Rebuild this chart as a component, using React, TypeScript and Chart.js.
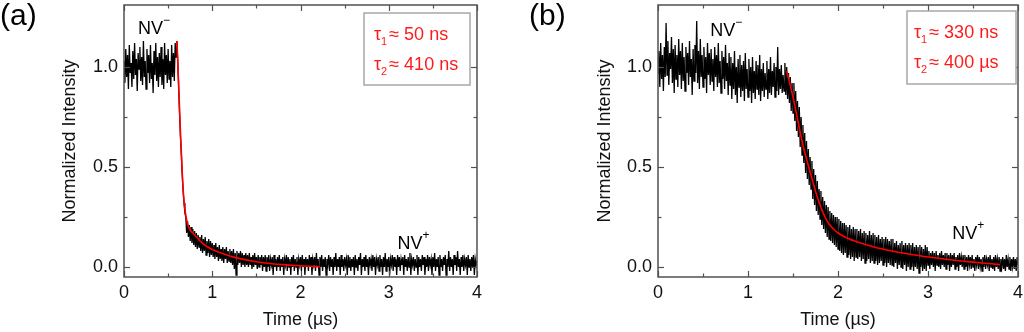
import React, { useEffect, useRef } from 'react';
import { Chart, registerables } from 'chart.js';

Chart.register(...registerables);

const FONT = "'Liberation Sans', Arial, sans-serif";

// sampling interval of the recorded traces (µs)
const SAMPLE_STEP_US = 0.01;

const X_TICKS = [0, 1, 2, 3, 4];
const X_MINOR = [0.5, 1.5, 2.5, 3.5];
const Y_TICKS = [0, 0.5, 1.0];
const Y_MINOR = [0.25, 0.75];

const X_TITLE = 'Time (µs)';
const Y_TITLE = 'Normalized Intensity';

// Panel (a): measured trace, one value per sample from t = 0 to 4 µs (20 samples per row)
const noiseA = [
  1.03, 0.92, 1.09, 0.95, 1.06, 0.89, 1.11, 0.97, 1.02, 0.90, 1.08, 0.94, 1.12, 0.96, 1.04, 0.88, 1.07, 0.99, 1.10, 0.93,
  1.05, 0.91, 1.13, 0.95, 1.03, 0.89, 1.09, 0.97, 1.06, 0.92, 1.11, 0.94, 1.02, 0.87, 1.08, 0.96, 1.12, 0.93, 1.05, 0.90,
  1.07, 0.95, 1.10, 0.91, 1.04, 0.89, 1.12, 0.96, 1.06, 0.92, 1.09, 0.94, 1.03, 0.90, 1.11, 0.95, 1.07, 0.93, 1.12, 1.05,
  1.13, 1.02, 0.89, 0.76, 0.65, 0.56, 0.46, 0.38, 0.32, 0.27, 0.25, 0.17, 0.23, 0.15, 0.21, 0.13, 0.20, 0.12, 0.19, 0.11,
  0.18, 0.10, 0.17, 0.09, 0.16, 0.10, 0.15, 0.08, 0.16, 0.07, 0.14, 0.08, 0.15, 0.06, 0.13, 0.07, 0.14, 0.05, 0.13, 0.06,
  0.12, 0.05, 0.11, 0.04, 0.12, 0.05, 0.10, 0.03, 0.11, 0.04, 0.09, 0.03, 0.10, 0.02, 0.09, 0.04, 0.10, 0.02, 0.08, 0.03,
  0.09, 0.02, 0.08, 0.01, 0.09, -0.01, 0.07, -0.04, 0.08, 0.01, 0.07, 0.02, 0.08, 0.00, 0.07, 0.01, 0.06, 0.00, 0.07, 0.01,
  0.06, 0.00, 0.07, 0.01, 0.05, -0.01, 0.06, 0.00, 0.07, 0.01, 0.05, -0.01, 0.06, 0.00, 0.05, 0.01, 0.06, -0.02, 0.05, 0.00,
  0.06, -0.02, 0.05, 0.00, 0.06, -0.02, 0.04, 0.01, 0.05, -0.04, 0.06, 0.00, 0.04, -0.02, 0.05, 0.00, 0.06, -0.02, 0.04, 0.00,
  0.05, -0.04, 0.04, 0.01, 0.06, -0.02, 0.05, 0.00, 0.04, -0.04, 0.05, 0.00, 0.06, -0.02, 0.04, 0.00, 0.05, -0.04, 0.04, 0.01,
  0.05, -0.02, 0.06, 0.00, 0.04, -0.04, 0.05, 0.00, 0.04, -0.02, 0.06, 0.00, 0.05, -0.04, 0.04, 0.01, 0.05, -0.02, 0.07, 0.00,
  0.04, -0.04, 0.05, 0.00, 0.06, -0.02, 0.04, 0.00, 0.05, -0.04, 0.04, 0.01, 0.06, -0.02, 0.05, 0.00, 0.04, -0.04, 0.05, 0.00,
  0.07, -0.02, 0.04, 0.00, 0.05, -0.04, 0.06, 0.00, 0.04, -0.02, 0.05, 0.01, 0.04, -0.04, 0.06, 0.00, 0.05, -0.02, 0.04, 0.00,
  0.05, -0.04, 0.06, 0.00, 0.04, -0.02, 0.05, 0.01, 0.07, -0.04, 0.04, 0.00, 0.05, -0.02, 0.06, 0.00, 0.04, -0.04, 0.05, 0.01,
  0.04, -0.02, 0.06, 0.00, 0.05, -0.04, 0.04, 0.01, 0.05, -0.02, 0.06, 0.00, 0.04, -0.04, 0.05, 0.00, 0.07, -0.02, 0.04, 0.00,
  0.05, -0.04, 0.04, 0.01, 0.06, -0.02, 0.05, 0.00, 0.04, -0.04, 0.06, 0.00, 0.05, -0.02, 0.04, 0.01, 0.05, -0.04, 0.06, 0.00,
  0.04, -0.02, 0.05, 0.00, 0.07, -0.04, 0.04, 0.01, 0.05, -0.02, 0.04, 0.00, 0.06, -0.04, 0.05, 0.00, 0.04, -0.02, 0.06, 0.01,
  0.05, -0.04, 0.04, 0.00, 0.06, -0.02, 0.05, 0.01, 0.04, -0.04, 0.05, 0.00, 0.07, -0.02, 0.04, 0.00, 0.05, -0.04, 0.06, 0.00,
  0.04, -0.02, 0.05, 0.01, 0.06, -0.04, 0.04, 0.00, 0.08, -0.02, 0.05, 0.00, 0.04, -0.04, 0.06, 0.01, 0.05, -0.02, 0.08, 0.00,
  0.04, -0.04, 0.05, 0.00, 0.06, -0.02, 0.04, 0.01, 0.05, -0.04, 0.06, 0.00, 0.04, -0.02, 0.05, 0.00, 0.06, -0.04, 0.04, 0.01,
  0.03,
];

// Panel (a): bi-exponential fit curve
const fitATimes = [0.60, 0.62, 0.64, 0.65, 0.66, 0.67, 0.68, 0.69, 0.70, 0.72, 0.75, 0.80, 0.85, 0.90, 0.95, 1.00, 1.10, 1.20, 1.30, 1.45, 1.60, 1.80, 2.00, 2.22];
const fitAValues = [1.13, 0.90, 0.67, 0.57, 0.47, 0.39, 0.33, 0.29, 0.26, 0.215, 0.185, 0.16, 0.135, 0.115, 0.10, 0.088, 0.07, 0.055, 0.043, 0.03, 0.02, 0.012, 0.006, 0.002];

// Panel (b): measured trace (20 samples per row)
const noiseB = [
  0.97, 1.08, 0.90, 1.12, 0.94, 1.06, 0.88, 1.10, 0.95, 1.22, 0.96, 1.13, 0.91, 1.07, 0.99, 1.15, 0.92, 1.09, 0.87, 1.11,
  0.94, 1.06, 0.90, 1.14, 0.96, 1.08, 0.89, 1.12, 0.93, 1.05, 0.88, 1.10, 0.97, 1.07, 0.91, 1.13, 0.95, 1.04, 0.86, 1.09,
  0.93, 1.11, 0.97, 1.23, 0.92, 1.08, 0.89, 1.14, 0.95, 1.06, 0.90, 1.10, 0.94, 1.05, 0.87, 1.12, 0.96, 1.07, 0.91, 1.09,
  0.93, 1.04, 0.88, 1.10, 0.95, 1.06, 0.90, 1.12, 0.92, 1.03, 0.87, 1.08, 0.94, 1.05, 0.89, 1.11, 0.93, 1.02, 0.86, 1.07,
  0.91, 1.05, 0.84, 1.02, 0.89, 1.08, 0.86, 1.00, 0.82, 1.04, 0.90, 1.06, 0.85, 1.01, 0.88, 1.03, 0.83, 1.07, 0.89, 0.99,
  0.85, 1.04, 0.88, 1.00, 0.82, 1.05, 0.87, 0.98, 0.84, 1.03, 0.89, 1.01, 0.86, 1.06, 0.83, 0.99, 0.88, 1.02, 0.85, 0.97,
  0.89, 1.03, 0.84, 0.99, 0.87, 1.05, 0.86, 0.98, 0.90, 1.02, 0.85, 1.00, 0.88, 1.10, 0.86, 0.99, 0.89, 1.01, 0.87, 0.96,
  0.88, 1.02, 0.86, 1.00, 0.84, 0.97, 0.82, 0.95, 0.78, 0.92, 0.77, 0.92, 0.73, 0.88, 0.68, 0.83, 0.65, 0.80, 0.60, 0.75,
  0.56, 0.71, 0.52, 0.67, 0.47, 0.63, 0.44, 0.59, 0.41, 0.55, 0.39, 0.53, 0.34, 0.49, 0.31, 0.46, 0.28, 0.43, 0.26, 0.39,
  0.24, 0.38, 0.21, 0.35, 0.19, 0.33, 0.17, 0.31, 0.15, 0.30, 0.14, 0.28, 0.13, 0.27, 0.12, 0.26, 0.11, 0.25, 0.10, 0.25,
  0.09, 0.24, 0.08, 0.23, 0.07, 0.22, 0.06, 0.22, 0.07, 0.21, 0.05, 0.20, 0.06, 0.21, 0.04, 0.19, 0.05, 0.20, 0.03, 0.19,
  0.05, 0.19, 0.04, 0.18, 0.05, 0.19, 0.03, 0.17, 0.04, 0.18, 0.02, 0.17, 0.03, 0.16, 0.04, 0.18, 0.02, 0.16, 0.03, 0.17,
  0.02, 0.16, 0.03, 0.15, 0.01, 0.16, 0.02, 0.14, 0.03, 0.15, 0.01, 0.14, 0.02, 0.15, 0.00, 0.14, 0.02, 0.13, 0.01, 0.14,
  0.01, 0.14, 0.00, 0.12, 0.02, 0.13, -0.01, 0.11, 0.01, 0.12, 0.00, 0.13, -0.01, 0.11, 0.01, 0.12, -0.02, 0.11, 0.00, 0.12,
  -0.01, 0.11, 0.00, 0.12, -0.02, 0.10, 0.00, 0.11, -0.01, 0.10, -0.03, 0.11, 0.00, 0.10, -0.02, 0.09, -0.01, 0.11, -0.02, 0.10,
  0.01, 0.08, -0.01, 0.07, 0.01, 0.08, 0.00, 0.07, -0.02, 0.08, 0.01, 0.06, 0.00, 0.07, -0.01, 0.08, 0.01, 0.06, 0.00, 0.07,
  -0.01, 0.07, 0.01, 0.06, -0.02, 0.07, 0.00, 0.06, 0.01, 0.07, -0.01, 0.05, 0.00, 0.06, -0.02, 0.07, 0.01, 0.05, 0.00, 0.06,
  -0.01, 0.06, 0.00, 0.05, -0.02, 0.06, 0.01, 0.05, -0.01, 0.06, 0.00, 0.04, -0.02, 0.05, 0.01, 0.06, -0.01, 0.05, 0.00, 0.04,
  -0.02, 0.05, 0.00, 0.06, -0.01, 0.04, 0.01, 0.05, -0.02, 0.06, 0.00, 0.04, -0.01, 0.05, -0.02, 0.06, 0.00, 0.04, -0.01, 0.05,
  -0.02, 0.04, 0.00, 0.05, -0.01, 0.04, -0.02, 0.06, 0.00, 0.04, -0.01, 0.05, -0.02, 0.04, 0.00, 0.05, -0.01, 0.04, -0.02, 0.05,
  0.01,
];

const fitBTimes = [1.43, 1.50, 1.55, 1.60, 1.65, 1.70, 1.75, 1.80, 1.85, 1.90, 1.95, 2.00, 2.10, 2.20, 2.40, 2.60, 2.80, 3.00, 3.20, 3.40, 3.60, 3.80];
const fitBValues = [0.98, 0.85, 0.74, 0.63, 0.54, 0.46, 0.38, 0.31, 0.255, 0.215, 0.19, 0.17, 0.145, 0.127, 0.10, 0.08, 0.064, 0.05, 0.039, 0.029, 0.02, 0.012];

type PanelCfg = {
  letter: string;
  letterX: number;
  noise: number[];
  fitT: number[];
  fitV: number[];
  tau1: string;
  tau2: string;
  box: [number, number, number, number];
  textX: number;
  nvMinus: [number, number];
  nvPlus: [number, number];
  yAxisWidth: number;
  yTitleOffset: number;
  padRight: number;
};

const panels: PanelCfg[] = [
  {
    letter: '(a)', letterX: 0,
    noise: noiseA, fitT: fitATimes, fitV: fitAValues,
    tau1: '≈ 50 ns', tau2: '≈ 410 ns',
    box: [364, 13, 106, 72], textX: 374,
    nvMinus: [0.16, 1.19], nvPlus: [3.1, 0.115],
    yAxisWidth: 124, yTitleOffset: 59, padRight: 35,
  },
  {
    letter: '(b)', letterX: 17,
    noise: noiseB, fitT: fitBTimes, fitV: fitBValues,
    tau1: '≈ 330 ns', tau2: '≈ 400 µs',
    box: [395, 11, 109, 73], textX: 402,
    nvMinus: [0.58, 1.18], nvPlus: [3.27, 0.165],
    yAxisWidth: 146, yTitleOffset: 82, padRight: 6,
  },
];

const decorPlugin = {
  id: 'decor',
  afterDatasetsDraw(chart: any, _args: any, opts: any) {
    const { ctx, chartArea, scales } = chart;
    const { left, right, top, bottom } = chartArea;
    const x = scales.x, y = scales.y;
    const cfg: PanelCfg = opts.cfg;
    ctx.save();
    // frame
    ctx.strokeStyle = '#505050';
    ctx.lineWidth = 1.5;
    ctx.strokeRect(left, top, right - left, bottom - top);
    // inward ticks
    ctx.lineWidth = 1.2;
    const seg = (x1: number, y1: number, x2: number, y2: number) => {
      ctx.beginPath(); ctx.moveTo(x1, y1); ctx.lineTo(x2, y2); ctx.stroke();
    };
    const xt = (vals: number[], len: number) => vals.forEach(v => {
      const px = Math.round(x.getPixelForValue(v)) + 0.5;
      seg(px, bottom, px, bottom - len); seg(px, top, px, top + len);
    });
    const yt = (vals: number[], len: number) => vals.forEach(v => {
      const py = Math.round(y.getPixelForValue(v)) + 0.5;
      seg(left, py, left + len, py); seg(right, py, right - len, py);
    });
    xt(X_TICKS, 6); xt(X_MINOR, 3.5);
    yt(Y_TICKS, 6); yt(Y_MINOR, 3.5);

    // NV labels
    ctx.fillStyle = '#000';
    ctx.textBaseline = 'middle';
    ctx.textAlign = 'left';
    const nv = (pos: [number, number], sign: string) => {
      const px = x.getPixelForValue(pos[0]);
      const py = y.getPixelForValue(pos[1]);
      ctx.font = `18px ${FONT}`;
      ctx.fillText('NV', px, py);
      const w = ctx.measureText('NV').width;
      ctx.font = `12px ${FONT}`;
      ctx.fillText(sign, px + w, py - 8);
    };
    nv(cfg.nvMinus, '−');
    nv(cfg.nvPlus, '+');

    // fit-parameter box
    const [bx, by, bw, bh] = cfg.box;
    ctx.fillStyle = '#fff';
    ctx.fillRect(bx, by, bw, bh);
    ctx.strokeStyle = '#a8a8a8';
    ctx.lineWidth = 1.5;
    ctx.strokeRect(bx, by, bw, bh);
    ctx.fillStyle = '#ff1a1a';
    ctx.textBaseline = 'alphabetic';
    const tau = (ty: number, sub: string, rest: string) => {
      ctx.font = `18px ${FONT}`;
      ctx.fillText('τ', cfg.textX, ty);
      const w = ctx.measureText('τ').width;
      ctx.font = `11px ${FONT}`;
      ctx.fillText(sub, cfg.textX + w, ty + 5);
      const w2 = ctx.measureText(sub).width;
      ctx.font = `18px ${FONT}`;
      ctx.fillText(rest, cfg.textX + w + w2 + 2, ty);
    };
    tau(by + 27, '1', cfg.tau1);
    tau(by + 57, '2', cfg.tau2);

    // panel letter
    ctx.fillStyle = '#000';
    ctx.font = `30px ${FONT}`;
    ctx.textBaseline = 'top';
    ctx.fillText(cfg.letter, cfg.letterX, 2);
    ctx.restore();
  },
};

function Panel({ cfg }: { cfg: PanelCfg }) {
  const ref = useRef<HTMLCanvasElement>(null);
  useEffect(() => {
    if (!ref.current) return;
    const noisePts = cfg.noise.map((v, i) => ({ x: i * SAMPLE_STEP_US, y: v }));
    const fitPts = cfg.fitT.map((t, i) => ({ x: t, y: cfg.fitV[i] }));
    const tickFont = { family: FONT, size: 18 };
    const chart = new Chart(ref.current, {
      type: 'line',
      data: {
        datasets: [
          { data: fitPts, borderColor: '#ff0000', borderWidth: 1.6, pointRadius: 0, tension: 0.3, order: 0 },
          { data: noisePts, borderColor: '#000000', borderWidth: 1.3, pointRadius: 0, tension: 0, order: 1 },
        ],
      },
      options: {
        animation: false,
        responsive: false,
        maintainAspectRatio: false,
        devicePixelRatio: 1,
        layout: { padding: { left: 0, right: cfg.padRight, top: 5, bottom: 0 } },
        plugins: {
          legend: { display: false },
          tooltip: { enabled: false },
          decor: { cfg },
        } as any,
        scales: {
          x: {
            type: 'linear', min: 0, max: 4,
            afterBuildTicks: (s: any) => { s.ticks = X_TICKS.map(v => ({ value: v })); },
            afterFit: (s: any) => { s.height = 55; s.paddingLeft = 0; s.paddingRight = 0; },
            ticks: { font: tickFont, color: '#111', padding: 5, maxRotation: 0, autoSkip: false, callback: (v: any) => String(v) },
            grid: { display: false, drawTicks: false },
            border: { display: false },
            title: { display: true, text: X_TITLE, font: { family: FONT, size: 18 }, color: '#111', padding: { top: 0, bottom: 1 } },
          },
          y: {
            type: 'linear', min: -0.05, max: 1.31,
            afterBuildTicks: (s: any) => { s.ticks = Y_TICKS.map(v => ({ value: v })); },
            afterFit: (s: any) => { s.width = cfg.yAxisWidth; s.paddingTop = 0; s.paddingBottom = 0; },
            ticks: { font: tickFont, color: '#111', padding: 6, autoSkip: false, callback: (v: any) => Number(v).toFixed(1) },
            grid: { display: false, drawTicks: false },
            border: { display: false },
            title: { display: true, text: Y_TITLE, font: { family: FONT, size: 18 }, color: '#111', padding: { top: cfg.yTitleOffset, bottom: 0 } },
          },
        },
      } as any,
      plugins: [decorPlugin],
    });
    return () => chart.destroy();
  }, [cfg]);
  return <canvas ref={ref} width={512} height={332} style={{ display: 'block', width: 512, height: 332 }} />;
}

export default function App() {
  return (
    <div style={{ position: 'absolute', left: 0, top: 0, width: 1024, height: 332, display: 'flex', background: '#fff' }}>
      {panels.map(p => <Panel key={p.letter} cfg={p} />)}
    </div>
  );
}
